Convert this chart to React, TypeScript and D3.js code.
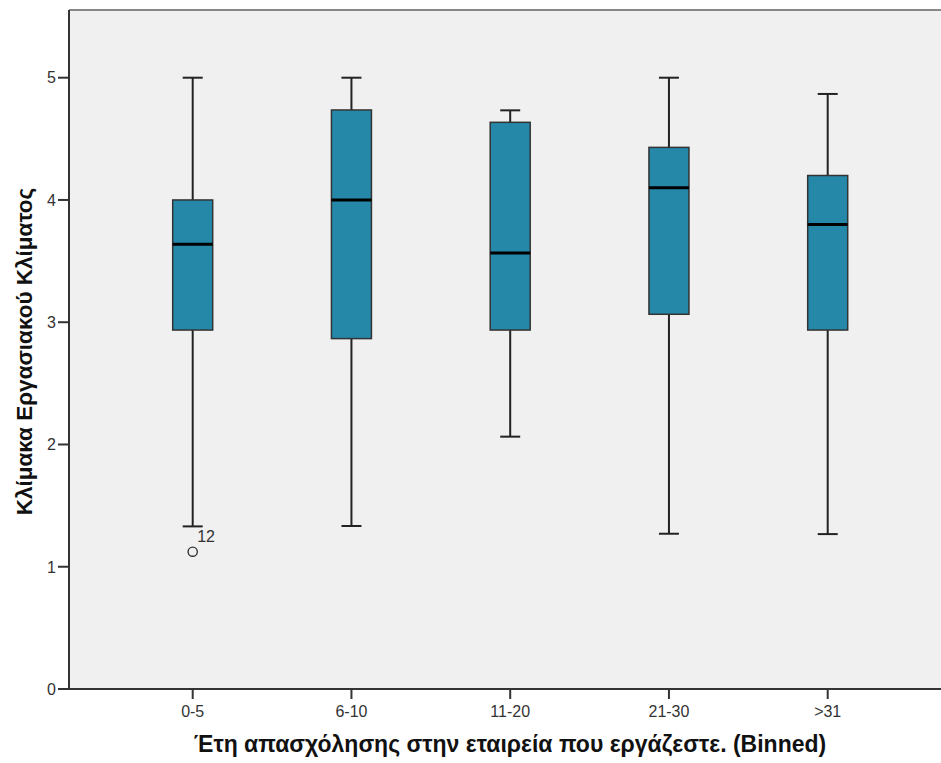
import React from "react";
import * as d3 from "d3";

const categories = ["0-5", "6-10", "11-20", "21-30", ">31"];
const whiskerLow = [1.33, 1.333, 2.064, 1.27, 1.267];
const q1 = [2.936, 2.866, 2.936, 3.065, 2.936];
const medians = [3.637, 4.0, 3.566, 4.1, 3.8];
const q3 = [4.0, 4.736, 4.635, 4.43, 4.2];
const whiskerHigh = [5.0, 5.0, 4.733, 5.0, 4.867];
const outliers = [{ cat: "0-5", value: 1.123, label: "12" }];
const yTicks = [0, 1, 2, 3, 4, 5];

const W = 941;
const H = 763;
const plotLeft = 69;
const plotRight = 941;
const plotTop = 10;
const plotBottom = 689;

export default function App() {
  const y = d3.scaleLinear().domain([0, 5]).range([plotBottom, 77.7]);
  const x = d3.scalePoint<string>().domain(categories).range([192.7, 827.7]);
  const boxW = 40;
  const capW = 20;
  const font = "'Liberation Sans', Arial, sans-serif";

  return (
    <svg
      width={W}
      height={H}
      style={{ position: "absolute", left: 0, top: 0, background: "#fff" }}
      fontFamily={font}
    >
      <rect x={plotLeft} y={plotTop} width={plotRight - plotLeft} height={plotBottom - plotTop} fill="#f0f0f0" />
      <line x1={plotLeft} x2={plotRight} y1={plotTop} y2={plotTop} stroke="#888" strokeWidth={2} />
      {categories.map((c, i) => {
        const cx = x(c)!;
        return (
          <g key={c}>
            <line x1={cx} x2={cx} y1={y(whiskerHigh[i])} y2={y(q3[i])} stroke="#222" strokeWidth={2} />
            <line x1={cx} x2={cx} y1={y(q1[i])} y2={y(whiskerLow[i])} stroke="#222" strokeWidth={2} />
            <line x1={cx - capW / 2} x2={cx + capW / 2} y1={y(whiskerHigh[i])} y2={y(whiskerHigh[i])} stroke="#222" strokeWidth={2} />
            <line x1={cx - capW / 2} x2={cx + capW / 2} y1={y(whiskerLow[i])} y2={y(whiskerLow[i])} stroke="#222" strokeWidth={2} />
            <rect
              x={cx - boxW / 2}
              y={y(q3[i])}
              width={boxW}
              height={y(q1[i]) - y(q3[i])}
              fill="#2588a9"
              stroke="#333"
              strokeWidth={1.5}
            />
            <line x1={cx - boxW / 2} x2={cx + boxW / 2} y1={y(medians[i])} y2={y(medians[i])} stroke="#000" strokeWidth={3} />
          </g>
        );
      })}
      {outliers.map((o) => (
        <g key={o.label}>
          <circle cx={x(o.cat)!} cy={y(o.value)} r={4.6} fill="none" stroke="#333" strokeWidth={1.4} />
          <text x={x(o.cat)! + 4.5} y={y(o.value) - 10} fontSize={16} fill="#333">
            {o.label}
          </text>
        </g>
      ))}
      {/* y axis */}
      <line x1={plotLeft} x2={plotLeft} y1={plotTop} y2={plotBottom} stroke="#333" strokeWidth={2} />
      {yTicks.map((t) => (
        <g key={t}>
          <line x1={plotLeft - 11} x2={plotLeft} y1={y(t)} y2={y(t)} stroke="#333" strokeWidth={2} />
          <text x={plotLeft - 13} y={y(t)} dy="0.36em" textAnchor="end" fontSize={16} fill="#333">
            {t}
          </text>
        </g>
      ))}
      {/* x axis */}
      <line x1={plotLeft} x2={plotRight} y1={plotBottom} y2={plotBottom} stroke="#333" strokeWidth={2} />
      {categories.map((c) => (
        <g key={c}>
          <line x1={x(c)!} x2={x(c)!} y1={plotBottom} y2={plotBottom + 10} stroke="#333" strokeWidth={2} />
          <text x={x(c)!} y={717} textAnchor="middle" fontSize={16} fill="#333">
            {c}
          </text>
        </g>
      ))}
      <text x={510} y={752} textAnchor="middle" fontSize={23} fontWeight="bold" fill="#111">
        Έτη απασχόλησης στην εταιρεία που εργάζεστε. (Binned)
      </text>
      <text
        transform={`translate(32, 351.5) rotate(-90)`}
        textAnchor="middle"
        fontSize={22.5}
        fontWeight="bold"
        fill="#111"
      >
        Κλίμακα Εργασιακού Κλίματος
      </text>
    </svg>
  );
}
